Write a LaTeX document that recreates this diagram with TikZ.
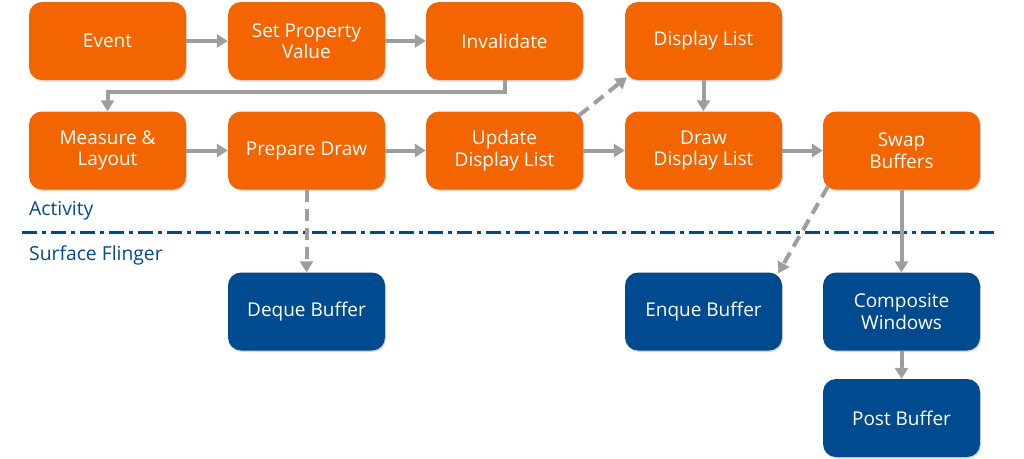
\documentclass[tikz,border=0pt]{standalone}
\usepackage{fontspec}
\setmainfont{Open Sans}
\usetikzlibrary{arrows.meta,shadows}
\definecolor{borange}{RGB}{243,101,0}
\definecolor{bblue}{RGB}{0,74,143}
\definecolor{agray}{RGB}{158,158,158}
\tikzset{
  box/.style={rounded corners=13pt, minimum width=157pt, minimum height=78pt, inner sep=0pt,
    align=center, text=white, font=\fontsize{19}{21.5}\selectfont,
    drop shadow={shadow xshift=1pt, shadow yshift=-1.5pt, opacity=0.3}},
  obox/.style={box, fill=borange},
  bbox/.style={box, fill=bblue},
  arr/.style={draw=agray, line width=4pt, -{Triangle[length=11pt,width=13pt]}},
  dasharr/.style={arr, dash pattern=on 12pt off 7pt},
  lanelabel/.style={anchor=west, text=bblue, font=\fontsize{19.3}{21.5}\selectfont, inner sep=0pt}
}
\begin{document}
\begin{tikzpicture}[x=1pt,y=-1pt]
\useasboundingbox (0,0) rectangle (1024,458);
% row 1
\node[obox] (ev) at (107.5,41) {Event};
\node[obox] (spv) at (306.5,41) {Set Property\\Value};
\node[obox] (inv) at (504.5,41) {Invalidate};
\node[obox] (dl) at (703.5,41) {Display List};
% row 2
\node[obox] (ml) at (107.5,150.5) {Measure \&\\Layout};
\node[obox] (pd) at (306.5,150.5) {Prepare Draw};
\node[obox] (udl) at (504.5,150.5) {Update\\Display List};
\node[obox] (ddl) at (703.5,150.5) {Draw\\Display List};
\node[obox] (sb) at (901.5,150.5) {Swap\\Buffers};
% labels and separator
\node[lanelabel] (act) at (29,211) {Activity};
\node[lanelabel] (sf) at (29,255) {Surface Flinger};
\coordinate (sepL) at (22,232);
\coordinate (sepR) at (998,232);
\draw[bblue, line width=3pt, dash pattern=on 15pt off 5pt on 4pt off 5pt] (sepL) -- (sepR);
% row 3/4
\node[bbox] (db) at (306.5,311.5) {Deque Buffer};
\node[bbox] (eb) at (703.5,311.5) {Enque Buffer};
\node[bbox] (cw) at (901.5,311.5) {Composite\\Windows};
\node[bbox] (pb) at (901.5,418) {Post Buffer};
% connectors
\draw[arr] (ev) -- (spv);
\draw[arr] (spv) -- (inv);
\draw[arr] (inv.south) -- ++(0,12) -| (ml.north);
\draw[arr] (ml) -- (pd);
\draw[arr] (pd) -- (udl);
\draw[arr] (udl) -- (ddl);
\draw[arr] (ddl) -- (sb);
\draw[arr] (dl) -- (ddl);
\draw[dasharr] ([shift={(-4,4)}]udl.north east) -- ([shift={(2,-3)}]dl.south west);
\draw[dasharr] (pd) -- (db);
\draw[dasharr] ([shift={(5,-3)}]sb.south west) -- ([shift={(-4,1)}]eb.north east);
\draw[arr] (sb) -- (cw);
\draw[arr] (cw) -- (pb);
\end{tikzpicture}
\end{document}
